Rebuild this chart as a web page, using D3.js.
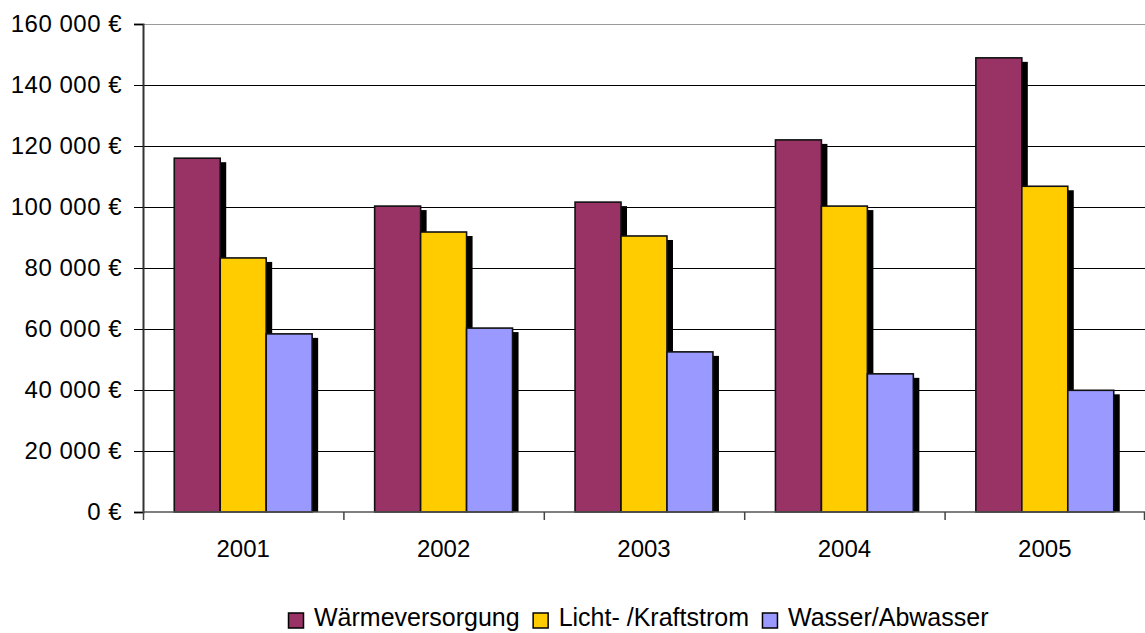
<!DOCTYPE html>
<html>
<head>
<meta charset="utf-8">
<script src="https://cdn.jsdelivr.net/npm/d3@7"></script>
<style>
  body { margin: 0; background: #fff; }
  svg { display: block; font-family: "Liberation Sans", Arial, sans-serif; }
</style>
</head>
<body>
<div id="chart"></div>
<script>
const years = ['2001', '2002', '2003', '2004', '2005'];
const seriesNames = ['Wärmeversorgung', 'Licht- /Kraftstrom', 'Wasser/Abwasser'];
const waerme = [116000, 100300, 101600, 122000, 148900];
const strom = [83300, 91800, 90500, 100300, 106800];
const wasser = [58400, 60300, 52500, 45300, 39900];
const yTicks = [0, 20000, 40000, 60000, 80000, 100000, 120000, 140000, 160000];

const width = 1145;
const height = 633;
const margin = { top: 24, right: 0, bottom: 121, left: 143 };
const colors = ['#993366', '#FFCC00', '#9999FF'];

const series = [waerme, strom, wasser];

const svg = d3.select('#chart')
  .append('svg')
  .attr('width', width)
  .attr('height', height);

const x = d3.scaleBand()
  .domain(years)
  .range([margin.left, width - margin.right]);

const xInner = d3.scaleBand()
  .domain(d3.range(series.length))
  .range([0, x.bandwidth()])
  .paddingOuter(0.68)
  .paddingInner(0);

const y = d3.scaleLinear()
  .domain([0, 160000])
  .range([height - margin.bottom, margin.top]);

const fmt = v => d3.format(',')(v).replace(/,/g, ' ') + ' €';

// Gridlines
svg.append('g')
  .selectAll('line')
  .data(yTicks.filter(d => d > 0))
  .enter()
  .append('line')
  .attr('x1', margin.left)
  .attr('x2', width - margin.right)
  .attr('y1', d => Math.round(y(d)) + 0.5)
  .attr('y2', d => Math.round(y(d)) + 0.5)
  .attr('stroke', d => d === 160000 ? '#999' : '#000')
  .attr('stroke-width', 1);

// Y axis
const yAxis = svg.append('g')
  .attr('transform', `translate(${margin.left},0)`)
  .call(d3.axisLeft(y).tickValues(yTicks).tickFormat(fmt).tickSize(9).tickPadding(12));
yAxis.select('.domain').attr('stroke', '#333').attr('stroke-width', 2);
yAxis.selectAll('.tick line').attr('stroke', '#000');
yAxis.selectAll('text')
  .attr('font-size', 24)
  .attr('letter-spacing', 0.5)
  .attr('fill', '#000')
  .attr('font-family', '"Liberation Sans", Arial, sans-serif');

// Bars with drop shadow
const groups = svg.append('g')
  .selectAll('g')
  .data(years)
  .enter()
  .append('g')
  .attr('transform', d => `translate(${x(d)},0)`);

const barData = (d, i) => series.map((s, k) => ({ k, v: s[i] }));

groups.each(function (d, i) {
  const g = d3.select(this);
  const data = barData(d, i);
  g.selectAll('rect.shadow')
    .data(data)
    .enter()
    .append('rect')
    .attr('class', 'shadow')
    .attr('x', b => xInner(b.k) + 6)
    .attr('y', b => y(b.v) + 4)
    .attr('width', xInner.bandwidth())
    .attr('height', b => y(0) - y(b.v) - 4)
    .attr('fill', '#000');
  g.selectAll('rect.bar')
    .data(data)
    .enter()
    .append('rect')
    .attr('class', 'bar')
    .attr('x', b => xInner(b.k))
    .attr('y', b => y(b.v))
    .attr('width', xInner.bandwidth())
    .attr('height', b => y(0) - y(b.v))
    .attr('fill', b => colors[b.k])
    .attr('stroke', '#111')
    .attr('stroke-width', 1.6);
});

// X axis
const xAxis = svg.append('g')
  .attr('transform', `translate(0,${y(0)})`);
xAxis.append('line')
  .attr('x1', margin.left)
  .attr('x2', width)
  .attr('stroke', '#555')
  .attr('stroke-width', 1.5);
xAxis.selectAll('line.tick')
  .data(years.map(d => x(d)).concat([width - 1]))
  .enter()
  .append('line')
  .attr('class', 'tick')
  .attr('x1', d => d + 0.5)
  .attr('x2', d => d + 0.5)
  .attr('y1', 0)
  .attr('y2', 8)
  .attr('stroke', '#444')
  .attr('stroke-width', 1.5);
xAxis.selectAll('text')
  .data(years)
  .enter()
  .append('text')
  .attr('x', d => x(d) + x.bandwidth() / 2)
  .attr('y', 45)
  .attr('text-anchor', 'middle')
  .attr('font-size', 24)
  .text(d => d);

// Legend
const legend = svg.append('g').attr('transform', 'translate(288,620)');
let lx = 0;
seriesNames.forEach((name, i) => {
  const item = legend.append('g').attr('transform', `translate(${lx},0)`);
  item.append('rect')
    .attr('x', 0.5)
    .attr('y', -7)
    .attr('width', 15)
    .attr('height', 15)
    .attr('fill', colors[i])
    .attr('stroke', '#000')
    .attr('stroke-width', 1.5);
  const t = item.append('text')
    .attr('x', 26)
    .attr('y', 6)
    .attr('font-size', 25)
    .text(name);
  lx += 26 + t.node().getComputedTextLength() + 13;
});
</script>
</body>
</html>
